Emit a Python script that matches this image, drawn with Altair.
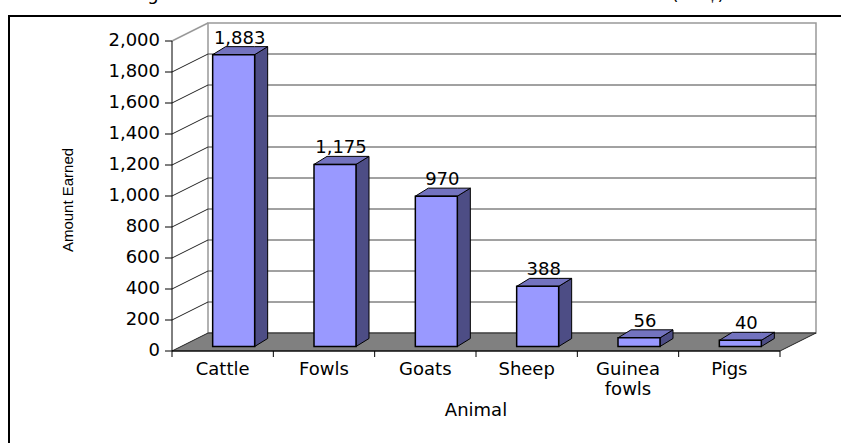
import altair as alt
import pandas as pd

# ---- data ----
categories = ["Cattle", "Fowls", "Goats", "Sheep", "Guinea fowls", "Pigs"]
amounts = [1883, 1175, 970, 388, 56, 40]
y_ticks = [0, 200, 400, 600, 800, 1000, 1200, 1400, 1600, 1800, 2000]
x_title = "Animal"
y_title = "Amount Earned"
title_fragments = ["g", "(GH¢)"]

# ---- geometry / style ----
W, H = 608, 310
N = len(categories)
YMAX = 2000
UX = N / W          # data units per pixel (x)
UY = YMAX / H       # data units per pixel (y)
DX, DY = 36 * UX, 18 * UY      # depth of floor / walls
BX, BY = 11 * UX, 4.5 * UY     # bar placement inside depth
HW = 21 * UX                   # half bar width
SX, SY = 13 * UX, 8 * UY       # bar depth
TICK_Y = 7 * UX
TICK_X = 6 * UY
FONT = "DejaVu Sans"
FS = 18

FRONT = "#9999FF"
SIDE = "#4D4D85"
TOP = "#7373BF"
FLOOR = "#808080"
WALL_EDGE = "#999999"
GRID = "#444444"

xs = alt.Scale(domain=[0, N], nice=False, zero=False)
ys = alt.Scale(domain=[0, YMAX], nice=False, zero=True)

# ---- derived tables ----
front_rows, side_rows, top_rows, lab_rows = [], [], [], []
for i, (c, v) in enumerate(zip(categories, amounts)):
    cx = i + 0.5 + BX
    L, R = cx - HW, cx + HW
    T = BY + v
    front_rows.append(dict(cat=c, x1=L, x2=R, y1=BY, y2=T))
    side_rows += [dict(cat=c, x=R, lo=BY, hi=T),
                  dict(cat=c, x=R + SX, lo=BY + SY, hi=T + SY)]
    top_rows += [dict(cat=c, x=L, lo=T, hi=T),
                 dict(cat=c, x=L + SX, lo=T, hi=T + SY),
                 dict(cat=c, x=R, lo=T, hi=T + SY),
                 dict(cat=c, x=R + SX, lo=T + SY, hi=T + SY)]
    lab_rows.append(dict(cat=c, x=cx, y=T + SY, label=f"{v:,}"))

front_df = pd.DataFrame(front_rows)
side_df = pd.DataFrame(side_rows)
top_df = pd.DataFrame(top_rows)
lab_df = pd.DataFrame(lab_rows)
cat_df = pd.DataFrame(dict(cx=[i + 0.5 for i in range(N)],
                           label=[c.replace(" ", "\n") for c in categories],
                           y=[0] * N))
floor_df = pd.DataFrame(dict(k=["f"] * 4,
                             x=[0, DX, N, N + DX],
                             lo=[0, 0, 0, DY],
                             hi=[0, DY, DY, DY]))
wall_df = pd.DataFrame(dict(x1=[DX], x2=[N + DX], y1=[DY], y2=[YMAX + DY]))
grid_vals = [t for t in y_ticks if 0 < t < YMAX]
grid_df = pd.DataFrame(dict(x1=[DX] * len(grid_vals), x2=[N + DX] * len(grid_vals),
                            y=[t + DY for t in grid_vals]))
diag_df = pd.DataFrame(dict(x1=[0] * len(grid_vals), x2=[DX] * len(grid_vals),
                            y1=grid_vals, y2=[t + DY for t in grid_vals]))
diag_top_df = pd.DataFrame(dict(x1=[0], x2=[DX], y1=[YMAX], y2=[YMAX + DY]))
ytick_df = pd.DataFrame(dict(x1=[0] * len(y_ticks), x2=[-TICK_Y] * len(y_ticks),
                             y=y_ticks, label=[f"{t:,}" for t in y_ticks]))
xtick_df = pd.DataFrame(dict(x=list(range(N + 1)), y1=[0] * (N + 1),
                             y2=[-TICK_X] * (N + 1)))
yline_df = pd.DataFrame(dict(x=[0], y1=[0], y2=[YMAX]))
xline_df = pd.DataFrame(dict(x1=[0], x2=[N], y=[0]))
one = pd.DataFrame({"a": [0]})


def X(f):
    return alt.X(f, scale=xs, axis=None)


def Y(f):
    return alt.Y(f, scale=ys, axis=None)


frame = alt.Chart(one).mark_rect(fill="white", fillOpacity=0, stroke="black",
                                 strokeWidth=2).encode(
    x=alt.value(-163), x2=alt.value(W + 200), y=alt.value(-25), y2=alt.value(H + 200))

frag1 = alt.Chart(one).mark_text(
    text=title_fragments[0], font=FONT, fontSize=FS, baseline="alphabetic",
    align="center", color="black").encode(x=alt.value(-19), y=alt.value(-41))
frag2 = alt.Chart(one).mark_text(
    text=title_fragments[1], font=FONT, fontSize=FS, baseline="alphabetic",
    align="center", color="black").encode(x=alt.value(526), y=alt.value(-41))

wall = alt.Chart(wall_df).mark_rect(fill="white", stroke=WALL_EDGE, strokeWidth=1.5).encode(
    x=X("x1:Q"), x2="x2:Q", y=Y("y1:Q"), y2="y2:Q")

grid = alt.Chart(grid_df).mark_rule(color=GRID, strokeWidth=1).encode(
    x=X("x1:Q"), x2="x2:Q", y=Y("y:Q"))

diag = alt.Chart(diag_df).mark_rule(color="#222222", strokeWidth=1).encode(
    x=X("x1:Q"), x2="x2:Q", y=Y("y1:Q"), y2="y2:Q")

diag_top = alt.Chart(diag_top_df).mark_rule(color=WALL_EDGE, strokeWidth=1.5).encode(
    x=X("x1:Q"), x2="x2:Q", y=Y("y1:Q"), y2="y2:Q")

floor = alt.Chart(floor_df).mark_area(fill=FLOOR, stroke="#222222", strokeWidth=1,
                                      interpolate="linear").encode(
    x=X("x:Q"), y=Y("lo:Q"), y2="hi:Q", detail="k:N")

side = alt.Chart(side_df).mark_area(fill=SIDE, stroke="black", strokeWidth=1).encode(
    x=X("x:Q"), y=Y("lo:Q"), y2="hi:Q", detail="cat:N")

top = alt.Chart(top_df).mark_area(fill=TOP, stroke="black", strokeWidth=1).encode(
    x=X("x:Q"), y=Y("lo:Q"), y2="hi:Q", detail="cat:N")

front = alt.Chart(front_df).mark_rect(fill=FRONT, stroke="black", strokeWidth=1.5).encode(
    x=X("x1:Q"), x2="x2:Q", y=Y("y1:Q"), y2="y2:Q")

vlabels = alt.Chart(lab_df).mark_text(font=FONT, fontSize=FS, baseline="alphabetic",
                                      align="center", dx=6, dy=-3, color="black").encode(
    x=X("x:Q"), y=Y("y:Q"), text="label:N")

clabels = alt.Chart(cat_df).mark_text(font=FONT, fontSize=FS, baseline="top",
                                      align="center", dy=10, lineBreak="\n",
                                      lineHeight=20, color="black").encode(
    x=X("cx:Q"), y=Y("y:Q"), text="label:N")

# axes drawn explicitly
yline = alt.Chart(yline_df).mark_rule(color="black", strokeWidth=1).encode(
    x=X("x:Q"), y=Y("y1:Q"), y2="y2:Q")
xline = alt.Chart(xline_df).mark_rule(color="black", strokeWidth=1.2).encode(
    x=X("x1:Q"), x2="x2:Q", y=Y("y:Q"))
yticks = alt.Chart(ytick_df).mark_rule(color="black", strokeWidth=1).encode(
    x=X("x1:Q"), x2="x2:Q", y=Y("y:Q"))
ylabels = alt.Chart(ytick_df).mark_text(font=FONT, fontSize=FS, baseline="middle",
                                        align="right", dx=-12, color="black").encode(
    x=X("x1:Q"), y=Y("y:Q"), text="label:N")
xticks = alt.Chart(xtick_df).mark_rule(color="black", strokeWidth=1).encode(
    x=X("x:Q"), y=Y("y1:Q"), y2="y2:Q")
ytitle = alt.Chart(one).mark_text(
    text=y_title, font="Liberation Sans Narrow, Liberation Sans", fontSize=15,
    angle=270, baseline="middle", align="center", color="black").encode(
    x=alt.value(-104), y=alt.value(H / 2 + 4))
xtitle = alt.Chart(one).mark_text(
    text=x_title, font=FONT, fontSize=FS, baseline="middle", align="center",
    color="black").encode(x=alt.value(W / 2), y=alt.value(H + 60))

chart = alt.layer(frame, frag1, frag2, wall, grid, diag, diag_top, floor, side, top,
                  front, vlabels, clabels, yline, xline, yticks, ylabels, xticks,
                  ytitle, xtitle).properties(
    width=W, height=H,
    padding={"left": 172, "top": 41, "right": 61, "bottom": 92},
    autosize=alt.AutoSizeParams(type="none"),
    background="white",
).configure_view(stroke=None)

chart.save("out.html", embed_options={"renderer": "svg", "actions": False})
